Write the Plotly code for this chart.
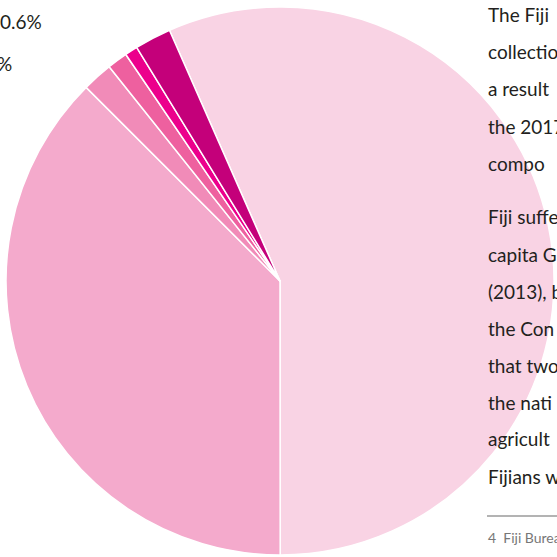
import plotly.graph_objects as go

# Data (clockwise from the large light slice)
categories = ["A", "B", "C", "D", "E", "F"]
values = [56.6, 37.5, 1.8, 1.2, 0.75, 2.15]
colors = ["#F9D3E4", "#F4AACC", "#F18BB8", "#EE609F", "#EC008C", "#C4007A"]

left_labels = ["0.6%", "%"]
para1 = ["The Fiji", "collectio", "a result", "the 2017", "compo"]
para2 = ["Fiji suffe", "capita G", "(2013), b", "the Con", "that two", "the nati", "agricult", "Fijians w"]
footnote = "4  Fiji Bureau"

W = H = 557

fig = go.Figure(go.Pie(
    labels=categories,
    values=values,
    sort=False,
    direction="clockwise",
    rotation=-23.8,
    marker=dict(colors=colors, line=dict(color="white", width=1.5)),
    textinfo="none",
    hoverinfo="label+percent",
    domain=dict(x=[6 / W, 554 / W], y=[2 / H, 550 / H]),
    showlegend=False,
))

def px(x):
    return x / W

def py(y):
    return 1 - y / H

ann = []
ann.append(dict(text=left_labels[0], x=px(44), y=py(22), xanchor="right", yanchor="middle"))
ann.append(dict(text=left_labels[1], x=px(14), y=py(63), xanchor="right", yanchor="middle"))
for i, t in enumerate(para1):
    ann.append(dict(text=t, x=px(486), y=py(15 + 37 * i), xanchor="left", yanchor="middle"))
for i, t in enumerate(para2):
    ann.append(dict(text=t, x=px(486), y=py(217 + 37 * i), xanchor="left", yanchor="middle"))
for a in ann:
    a.update(xref="paper", yref="paper", showarrow=False,
             font=dict(family="Lato", size=19, color="#231F20"))
ann.append(dict(text=footnote, x=px(486), y=py(537), xanchor="left", yanchor="middle",
                xref="paper", yref="paper", showarrow=False,
                font=dict(family="Lato", size=14, color="#777777")))

fig.update_layout(
    width=W, height=H,
    margin=dict(l=0, r=0, t=0, b=0),
    paper_bgcolor="white",
    plot_bgcolor="white",
    annotations=ann,
    shapes=[dict(type="line", xref="paper", yref="paper",
                 x0=px(487), x1=px(560), y0=py(516), y1=py(516),
                 line=dict(color="#9A9A9A", width=1.5))],
)

fig.write_html("out.html",
               config={"displayModeBar": False},
               post_script="document.body.style.margin='0';document.body.style.overflow='hidden';")
